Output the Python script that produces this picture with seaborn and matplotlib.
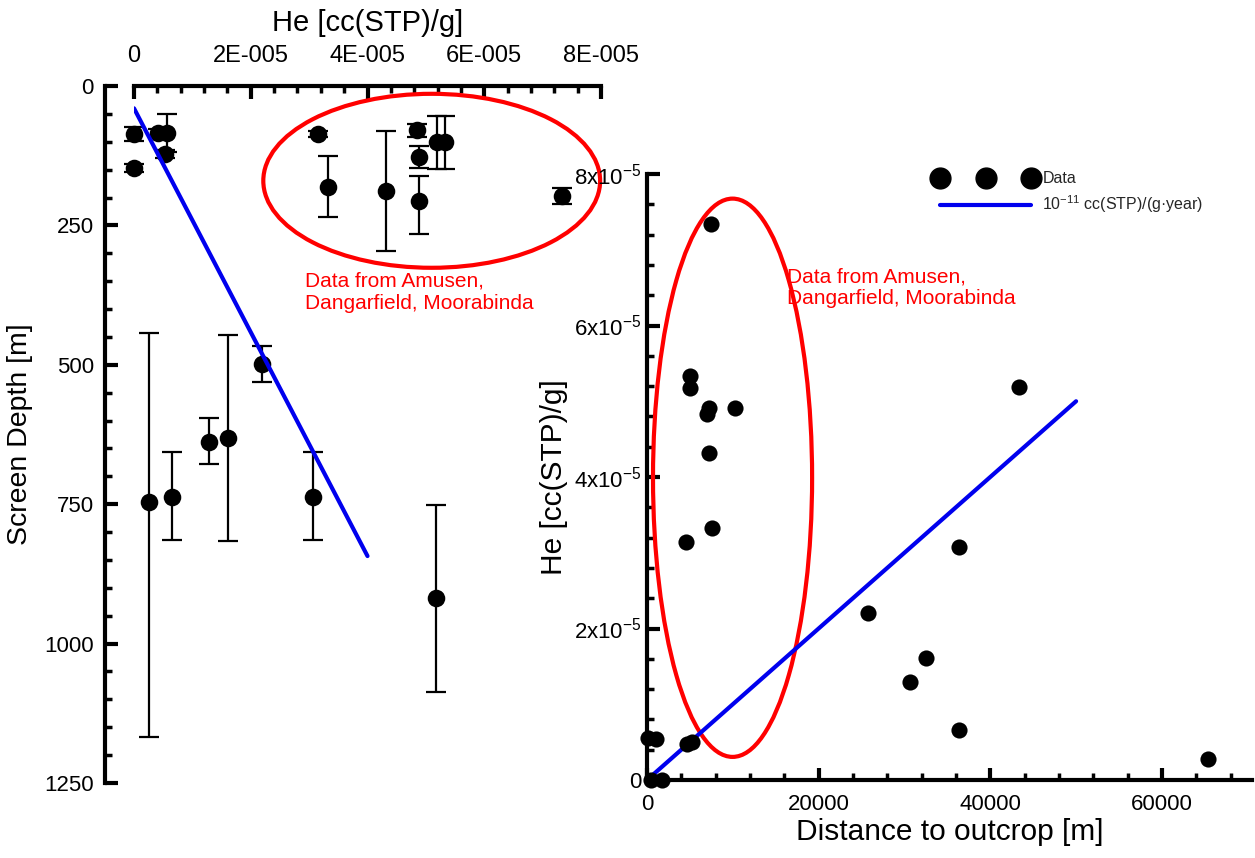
import numpy as np
import pandas as pd
import matplotlib
matplotlib.use("Agg")
import matplotlib.pyplot as plt
from matplotlib.patches import Ellipse
from matplotlib.ticker import MultipleLocator
from matplotlib.lines import Line2D
import seaborn as sns

# ---------------- data: left panel (He vs screen depth) ----------------
left_he = [0.0, 0.0, 0.41e-5, 0.57e-5, 0.53e-5, 3.15e-5, 3.32e-5, 4.32e-5, 4.85e-5,
           4.88e-5, 4.88e-5, 5.19e-5, 5.33e-5, 7.33e-5, 0.26e-5, 0.65e-5, 1.28e-5,
           1.61e-5, 2.19e-5, 3.07e-5, 5.17e-5]
left_depth = [86, 147, 84, 84, 122, 86, 181, 188, 79, 127, 206, 100, 100, 197, 746,
              737, 638, 631, 499, 737, 918]
left_err_low = [12, 8, 6, 34, 8, 6, 55, 107, 11, 19, 45, 46, 46, 14, 303, 81, 43,
                184, 33, 81, 167]
left_err_high = [12, 8, 6, 34, 8, 6, 54, 108, 12, 20, 59, 49, 49, 15, 421, 77, 40,
                 185, 32, 77, 169]
left_line_he = [0.0, 4.0e-5]
left_line_depth = [40, 843]
left_xticklabels = ["0", "2E-005", "4E-005", "6E-005", "8E-005"]
left_yticks = [0, 250, 500, 750, 1000, 1250]

# ---------------- data: right panel (He vs distance to outcrop) ----------------
right_dist = [100, 1000, 500, 1800, 4700, 5200, 4550, 5015, 5015, 7000, 7230, 7230,
              7580, 10260, 7460, 25770, 30670, 32540, 36380, 36380, 43380, 65420]
right_he = [0.55e-5, 0.54e-5, 0.0, 0.0, 0.47e-5, 0.50e-5, 3.14e-5, 5.33e-5, 5.17e-5,
            4.83e-5, 4.91e-5, 4.32e-5, 3.33e-5, 4.91e-5, 7.34e-5, 2.20e-5, 1.29e-5,
            1.61e-5, 3.08e-5, 0.66e-5, 5.19e-5, 0.28e-5]
right_line_dist = [0, 50000]
right_line_he = [0.0, 5.0e-5]
right_yticklabels = ["0", "2x10$^{-5}$", "4x10$^{-5}$", "6x10$^{-5}$", "8x10$^{-5}$"]
right_xticks = [0, 20000, 40000, 60000]

annot_text = "Data from Amusen,\nDangarfield, Moorabinda"

# ---------------- style ----------------
sns.set_theme(style="ticks")
plt.rcParams["font.family"] = ["Liberation Sans", "DejaVu Sans"]
plt.rcParams["mathtext.fontset"] = "custom"
plt.rcParams["mathtext.rm"] = "Liberation Sans"
plt.rcParams["mathtext.it"] = "Liberation Sans:italic"
plt.rcParams["mathtext.default"] = "regular"

W, H = 1255, 858
fig = plt.figure(figsize=(W / 100, H / 100), dpi=100)

def frac(x0, y0, x1, y1):
    return [x0 / W, 1 - y1 / H, (x1 - x0) / W, (y1 - y0) / H]

def style_axis(ax):
    ax.tick_params(which="major", direction="in", length=9, width=3, labelsize=16,
                   color="black", labelcolor="black")
    ax.tick_params(which="minor", direction="in", length=5, width=2.5, color="black")

# ---------------- left panel ----------------
axL = fig.add_axes(frac(134, 86, 601, 783))
dfL = pd.DataFrame({"he": left_he, "depth": left_depth})
axL.errorbar(left_he, left_depth, yerr=[left_err_low, left_err_high], fmt="none",
             ecolor="black", elinewidth=1.6, capsize=7, capthick=1.6, clip_on=False,
             zorder=2)
sns.scatterplot(data=dfL, x="he", y="depth", ax=axL, color="black", s=160,
                edgecolor="black", linewidth=0, clip_on=False, zorder=3, legend=False)
sns.lineplot(x=left_line_he, y=left_line_depth, ax=axL, color="#0000ee", linewidth=3,
             zorder=4, sort=False)
axL.add_patch(Ellipse((5.1e-5, 170), 5.77e-5, 312, fill=False, edgecolor="red",
                      linewidth=3, zorder=1, clip_on=False))
axL.text(2.93e-5, 333, annot_text, color="red", fontsize=15, va="top", ha="left",
         linespacing=1.2)
axL.set_xlim(0, 8e-5)
axL.set_ylim(1250, 0)
axL.xaxis.tick_top()
axL.xaxis.set_label_position("top")
axL.set_xticks([0, 2e-5, 4e-5, 6e-5, 8e-5])
axL.set_xticklabels(left_xticklabels)
axL.set_yticks(left_yticks)
axL.xaxis.set_minor_locator(MultipleLocator(0.4e-5))
axL.yaxis.set_minor_locator(MultipleLocator(50))
axL.spines["bottom"].set_visible(False)
axL.spines["right"].set_visible(False)
axL.spines["left"].set_position(("outward", 21))
for s in ("top", "left"):
    axL.spines[s].set_linewidth(3)
    axL.spines[s].set_color("black")
style_axis(axL)
axL.tick_params(axis="x", pad=14, labelsize=17)
axL.tick_params(axis="y", pad=8)
axL.set_xlabel("He [cc(STP)/g]", fontsize=21, labelpad=10, color="black")
axL.set_ylabel("Screen Depth [m]", fontsize=20.5, labelpad=8, color="black")

# ---------------- right panel ----------------
axR = fig.add_axes(frac(647, 174, 1252, 780))
dfR = pd.DataFrame({"dist": right_dist, "he": right_he})
sns.lineplot(x=right_line_dist, y=right_line_he, ax=axR, color="#0000ee", linewidth=3,
             zorder=2, sort=False)
sns.scatterplot(data=dfR, x="dist", y="he", ax=axR, color="black", s=135,
                edgecolor="black", linewidth=0, clip_on=False, zorder=3, legend=False)
axR.add_patch(Ellipse((9970, 3.99e-5), 18540, 7.37e-5, fill=False, edgecolor="red",
                      linewidth=3, zorder=1, clip_on=False))
axR.text(16300, 6.77e-5, annot_text, color="red", fontsize=15, va="top", ha="left",
         linespacing=1.2)
axR.set_xlim(0, 70500)
axR.set_ylim(0, 8e-5)
axR.set_xticks(right_xticks)
axR.set_xticklabels([str(v) for v in right_xticks])
axR.set_yticks([0, 2e-5, 4e-5, 6e-5, 8e-5])
axR.set_yticklabels(right_yticklabels)
axR.xaxis.set_minor_locator(MultipleLocator(4000))
axR.yaxis.set_minor_locator(MultipleLocator(0.4e-5))
axR.spines["top"].set_visible(False)
axR.spines["right"].set_visible(False)
for s in ("bottom", "left"):
    axR.spines[s].set_linewidth(3)
    axR.spines[s].set_color("black")
style_axis(axR)
axR.tick_params(axis="x", pad=10)
axR.tick_params(axis="y", pad=4)
axR.set_xlabel("Distance to outcrop [m]", fontsize=21.5, labelpad=2, color="black")
axR.set_ylabel("He [cc(STP)/g]", fontsize=21.5, labelpad=4, color="black")

# legend
h_data = Line2D([], [], linestyle="none", marker="o", markersize=15, color="black")
h_line = Line2D([], [], color="#0000ee", linewidth=3)
leg = axR.legend([h_data, h_line], ["Data", "10$^{-11}$ cc(STP)/(g\u00b7year)"],
                 loc="upper left", bbox_to_anchor=((929 - 647) / 605, 1.015),
                 frameon=False, fontsize=11.5, numpoints=3, handlelength=6.3,
                 handletextpad=0.4, labelspacing=0.45, borderaxespad=0)

fig.savefig("out.png", dpi=100)
